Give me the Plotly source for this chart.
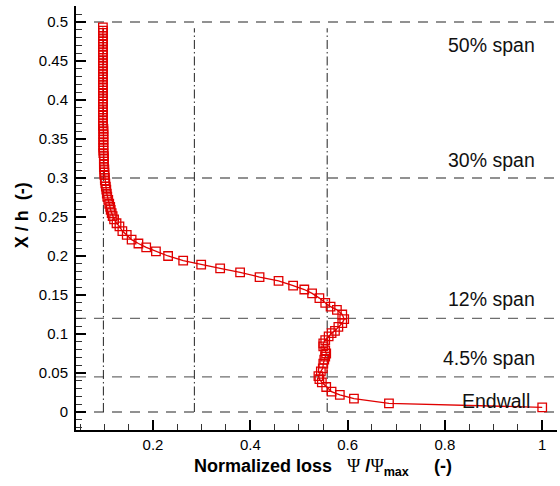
import plotly.graph_objects as go

# Normalized loss profile Psi/Psi_max versus spanwise position X/h (endwall -> midspan)
loss = [
    1.000, 0.685, 0.613, 0.584, 0.567, 0.556, 0.547, 0.542, 0.540, 0.545,
    0.549, 0.550, 0.552, 0.554, 0.556, 0.554, 0.550, 0.550, 0.554, 0.561,
    0.567, 0.574, 0.581, 0.589, 0.593, 0.589, 0.578, 0.565, 0.554, 0.542,
    0.527, 0.511, 0.488, 0.458, 0.419, 0.379, 0.338, 0.299, 0.262, 0.231,
    0.206, 0.186, 0.170, 0.156, 0.146, 0.137, 0.131, 0.125, 0.120, 0.117,
    0.115, 0.113, 0.112, 0.110, 0.108, 0.106, 0.105, 0.104, 0.103, 0.102,
    0.101, 0.101, 0.100, 0.100, 0.100, 0.099, 0.099, 0.099, 0.099, 0.099,
    0.098, 0.098, 0.098, 0.098, 0.098, 0.098, 0.098, 0.098, 0.098, 0.098,
    0.097, 0.097, 0.097, 0.097, 0.097, 0.097, 0.097, 0.097, 0.097, 0.097,
    0.097, 0.097, 0.097, 0.097, 0.097, 0.097, 0.097, 0.097, 0.097, 0.097,
    0.097, 0.097, 0.097, 0.097, 0.097, 0.097, 0.097,
]
span = [
    0.006, 0.011, 0.017, 0.022, 0.026, 0.032, 0.038, 0.042, 0.046, 0.052,
    0.056, 0.062, 0.067, 0.071, 0.075, 0.079, 0.084, 0.088, 0.092, 0.097,
    0.101, 0.104, 0.109, 0.114, 0.119, 0.125, 0.131, 0.135, 0.140, 0.146,
    0.152, 0.157, 0.162, 0.168, 0.173, 0.179, 0.184, 0.189, 0.194, 0.200,
    0.206, 0.211, 0.216, 0.221, 0.227, 0.232, 0.238, 0.242, 0.247, 0.251,
    0.255, 0.259, 0.263, 0.267, 0.272, 0.276, 0.280, 0.285, 0.289, 0.293,
    0.297, 0.300, 0.304, 0.307, 0.311, 0.314, 0.318, 0.321, 0.325, 0.328,
    0.332, 0.335, 0.339, 0.342, 0.346, 0.349, 0.353, 0.356, 0.360, 0.363,
    0.367, 0.370, 0.374, 0.377, 0.381, 0.384, 0.388, 0.391, 0.395, 0.398,
    0.402, 0.405, 0.409, 0.412, 0.416, 0.419, 0.423, 0.426, 0.430, 0.433,
    0.437, 0.440, 0.444, 0.447, 0.451, 0.454, 0.458,
]
# upper part of the column near midspan
loss += [0.097, 0.097, 0.097, 0.097, 0.097, 0.097, 0.097, 0.097, 0.097, 0.097]
span += [0.461, 0.465, 0.468, 0.472, 0.475, 0.479, 0.482, 0.486, 0.489, 0.493]

# Reference span stations (horizontal) and loss levels (vertical)
station_y = [0.0, 0.045, 0.12, 0.3, 0.5]
level_x = [0.098, 0.285, 0.558]
station_labels = ["Endwall", "4.5% span", "12% span", "30% span", "50% span"]
label_y = [0.014, 0.069, 0.145, 0.323, 0.4705]
label_x = [0.979, 0.989, 0.989, 0.989, 0.989]

FONT = "Liberation Sans, Arial, sans-serif"
SERIF = "Liberation Serif"
RED = "#e00000"

X_RANGE = [0.0417, 1.0304]
Y_RANGE = [-0.0231, 0.5205]

fig = go.Figure()

fig.add_trace(go.Scatter(
    x=loss, y=span, mode="lines+markers",
    line=dict(color=RED, width=1.3),
    marker=dict(symbol="square-open", size=8.5, color=RED, line=dict(width=1.3, color=RED)),
    showlegend=False, hoverinfo="skip",
))

shapes = []
for yv in station_y:
    shapes.append(dict(type="line", xref="x", yref="y", x0=X_RANGE[0], x1=X_RANGE[1],
                       y0=yv, y1=yv, layer="below",
                       line=dict(color="#6e6e6e", width=1.4, dash="10px,8px")))
for xv in level_x:
    shapes.append(dict(type="line", xref="x", yref="y", x0=xv, x1=xv,
                       y0=0.0, y1=0.492, layer="below",
                       line=dict(color="#222222", width=1, dash="9px,3px,1.5px,3px")))

annotations = []
for txt, xv, yv in zip(station_labels, label_x, label_y):
    annotations.append(dict(x=xv, y=yv, xref="x", yref="y", text=txt, showarrow=False,
                            xanchor="right", yanchor="middle",
                            font=dict(family=FONT, size=19.5, color="#111111")))

psi = f"<span style='font-family:{SERIF};font-weight:normal'>Ψ</span>"
xtitle = ("<b>Normalized loss</b>&nbsp;&nbsp;&nbsp;" + psi + "&nbsp;<b>/</b>" + psi +
          "<sub><b>max</b></sub>&nbsp;&nbsp;&nbsp;&nbsp;&nbsp;<b>(-)</b>")
annotations.append(dict(x=0.514, y=-0.0896, xref="paper", yref="paper", text=xtitle,
                        showarrow=False, xanchor="center", yanchor="middle",
                        font=dict(family=FONT, size=18, color="black")))
annotations.append(dict(x=-0.112, y=0.507, xref="paper", yref="paper",
                        text="<b>X / h&nbsp;&nbsp;(-)</b>", textangle=-90,
                        showarrow=False, xanchor="center", yanchor="middle",
                        font=dict(family=FONT, size=18, color="black")))

fig.update_layout(
    width=560, height=486,
    margin=dict(l=76, r=3, t=6, b=56),
    paper_bgcolor="white", plot_bgcolor="white",
    font=dict(family=FONT, color="black"),
    shapes=shapes, annotations=annotations,
)

fig.update_xaxes(
    range=X_RANGE, tick0=0, dtick=0.2, showgrid=False, zeroline=False,
    showline=True, linecolor="black", linewidth=2,
    ticks="inside", ticklen=10, tickwidth=2, tickcolor="black",
    tickfont=dict(family=FONT, size=15, color="black"),
    minor=dict(tick0=0, dtick=0.05, ticks="inside", ticklen=6, tickwidth=1,
               tickcolor="#333333", showgrid=False),
)
fig.update_yaxes(
    range=Y_RANGE, tick0=0, dtick=0.05, showgrid=False, zeroline=False,
    showline=True, linecolor="black", linewidth=2,
    ticks="inside", ticklen=10, tickwidth=2, tickcolor="black",
    ticklabelstandoff=3,
    tickfont=dict(family=FONT, size=15, color="black"),
    minor=dict(tick0=0, dtick=0.01, ticks="inside", ticklen=6, tickwidth=1,
               tickcolor="#333333", showgrid=False),
)

fig.write_html("out.html")
